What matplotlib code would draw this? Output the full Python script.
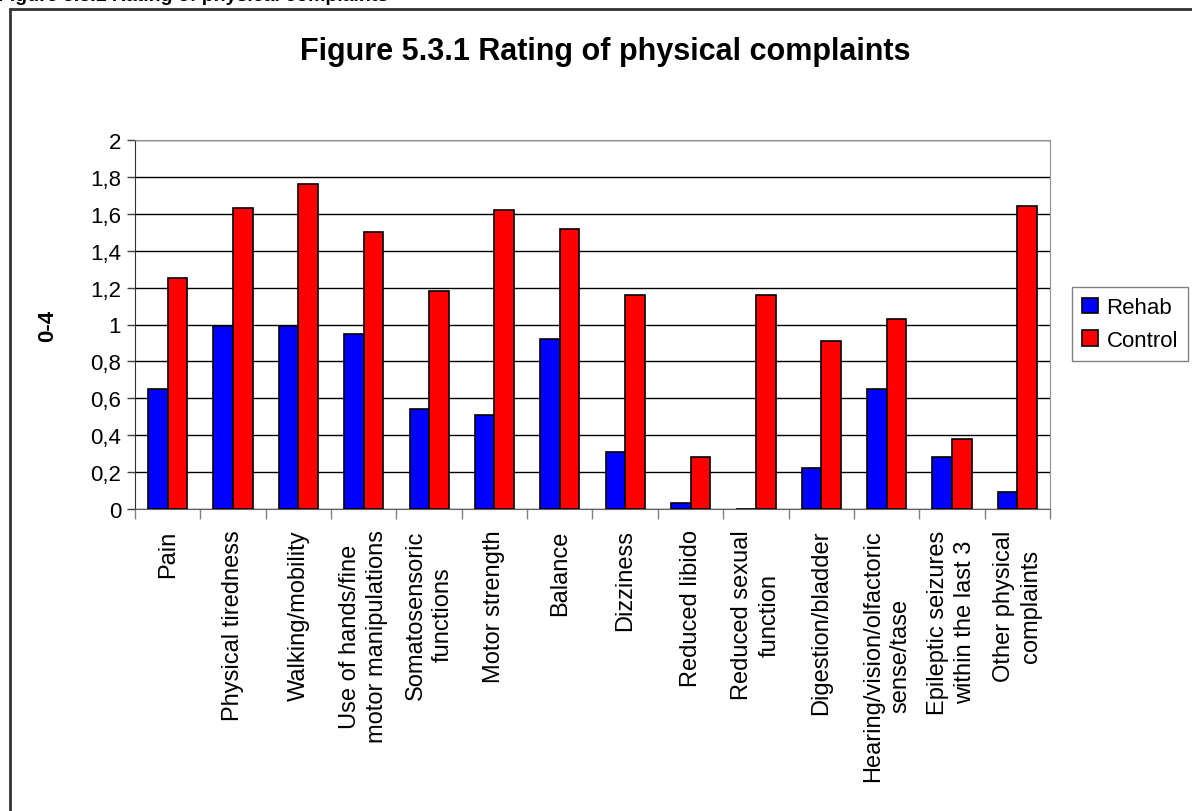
import numpy as np
import matplotlib
matplotlib.use("Agg")
import matplotlib.pyplot as plt
from matplotlib.patches import Rectangle

plt.rcParams['font.family'] = ['Liberation Sans', 'DejaVu Sans']

# data
categories = ["Pain", "Physical tiredness", "Walking/mobility",
              "Use of hands/fine\nmotor manipulations", "Somatosensoric\nfunctions",
              "Motor strength", "Balance", "Dizziness", "Reduced libido",
              "Reduced sexual\nfunction", "Digestion/bladder",
              "Hearing/vision/olfactoric\nsense/tase",
              "Epileptic seizures\nwithin the last 3", "Other physical\ncomplaints"]
rehab = [0.65, 0.99, 0.99, 0.95, 0.54, 0.51, 0.92, 0.31, 0.03, 0.0, 0.22, 0.65, 0.28, 0.09]
control = [1.25, 1.63, 1.76, 1.50, 1.18, 1.62, 1.52, 1.16, 0.28, 1.16, 0.91, 1.03, 0.38, 1.64]
yticks = [0, 0.2, 0.4, 0.6, 0.8, 1.0, 1.2, 1.4, 1.6, 1.8, 2.0]
ytick_labels = ["0", "0,2", "0,4", "0,6", "0,8", "1", "1,2", "1,4", "1,6", "1,8", "2"]

fig = plt.figure(figsize=(11.92, 8.12), dpi=100)
ax = fig.add_axes([135/1192, 1 - 510/812, 915/1192, 369/812])

x = np.arange(len(categories))
w = 0.3
ax.bar(x - w/2, rehab, w, color='#0000ff', edgecolor='black', linewidth=1.2, label='Rehab', zorder=3)
ax.bar(x + w/2, control, w, color='#ff0000', edgecolor='black', linewidth=1.2, label='Control', zorder=3)

ax.set_xlim(-0.5, len(categories) - 0.5)
ax.set_ylim(0, 2)
ax.set_yticks(yticks)
ax.set_yticklabels(ytick_labels, fontsize=16)
ax.yaxis.grid(True, color='black', linewidth=1, zorder=0)
ax.tick_params(axis='y', length=6, width=1, color='#404040', pad=4)

# category labels between boundary ticks
ax.set_xticks(np.arange(len(categories) + 1) - 0.5)
ax.set_xticklabels([])
ax.tick_params(axis='x', length=7, width=1, color='#808080')
for i, c in enumerate(categories):
    ax.text(i, -0.11, c, rotation=90, ha='center', va='top', multialignment='center',
            fontsize=17, linespacing=1.3, transform=ax.transData, clip_on=False)

for s in ['top', 'right']:
    ax.spines[s].set_color('#909090')
ax.spines['left'].set_color('#303030')
ax.spines['bottom'].set_color('#606060')

ax.set_ylabel("0-4", fontsize=16, fontweight='bold')
ax.yaxis.set_label_coords(-(135 - 58)/915, 0.5)

leg = ax.legend(loc='center left', bbox_to_anchor=(1072/1192, 1 - 325/812),
                bbox_transform=fig.transFigure, fontsize=16, frameon=True, fancybox=False,
                handlelength=0.7, handleheight=0.7, handletextpad=0.4, labelspacing=0.5,
                borderpad=0.45, borderaxespad=0)
leg.get_frame().set_edgecolor('#606060')
leg.get_frame().set_linewidth(1)

fig.text(605/1192, 1 - 52/812, "Figure 5.3.1 Rating of physical complaints",
         ha='center', va='center', fontsize=22, fontweight='bold')

# caption cut off at the top of the page
fig.text(-2/1192, 1 - 1/812, "Figure 5.3.1 Rating of physical complaints",
         ha='left', va='baseline', fontsize=14, fontweight='bold')

# chart area frame
fig.patches.append(Rectangle((10/1192, -0.05), 1.2, 1 - 10/812 + 0.05, transform=fig.transFigure,
                             fill=False, edgecolor='#333333', linewidth=2))

fig.savefig("out.png", dpi=100)
